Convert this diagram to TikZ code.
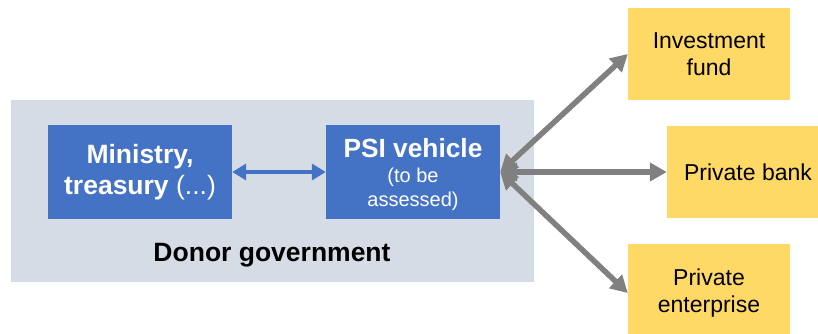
\documentclass[tikz,border=0pt]{standalone}
\usepackage{fontspec}
\setmainfont{Liberation Sans}
\usetikzlibrary{arrows.meta}
\definecolor{boxblue}{HTML}{4472C4}
\definecolor{boxyellow}{HTML}{FFD966}
\definecolor{bggrey}{HTML}{D6DCE5}
\definecolor{arrowgrey}{HTML}{808080}
\begin{document}
\begin{tikzpicture}[x=1pt,y=-1pt,
  bluebox/.style={fill=boxblue, text=white, align=center, inner sep=0pt, minimum width=184pt, minimum height=94pt},
  yellowbox/.style={fill=boxyellow, text=black, align=center, inner sep=0pt, minimum width=162pt, minimum height=92pt, font=\fontsize{23}{27}\selectfont},
  greyarrow/.style={draw=arrowgrey, line width=5.5pt, {Triangle[length=17pt,width=18pt]}-{Triangle[length=17pt,width=18pt]}},
  bluearrow/.style={draw=boxblue, line width=4pt, {Triangle[length=14pt,width=16pt]}-{Triangle[length=14pt,width=16pt]}}
]
\useasboundingbox (0,0) rectangle (818,333);
\node[fill=bggrey, minimum width=523pt, minimum height=182pt, inner sep=0pt] (donor) at (272.5,191) {};
\node[font=\bfseries\fontsize{26.5}{30}\selectfont] (donorlabel) at (272,255) {Donor government};
\node[bluebox, font=\fontsize{26.5}{31}\selectfont] (ministry) at (140,172) {\textbf{Ministry,}\\\textbf{treasury} (...)};
\node[bluebox, minimum width=174pt, font=\fontsize{20}{24}\selectfont] (psi) at (413,172) {};
\node[text=white, align=center, inner sep=0pt, font=\fontsize{20}{24}\selectfont] (psitext) at (413,175) {{\fontsize{26.3}{30}\selectfont\bfseries PSI vehicle}\\[1pt](to be\\assessed)};
\node[yellowbox] (fund) at (709,54) {Investment\\fund};
\node[yellowbox] (bank) at (748,172) {Private bank};
\node[yellowbox, minimum height=98pt] (enterprise) at (709,293) {Private\\enterprise};
\draw[bluearrow] (ministry.east) -- (psi.west);
\draw[greyarrow] (psi.east) -- (fund.west);
\draw[greyarrow] (psi.east) -- (bank.west);
\draw[greyarrow] (psi.east) -- (enterprise.west);
\end{tikzpicture}
\end{document}
